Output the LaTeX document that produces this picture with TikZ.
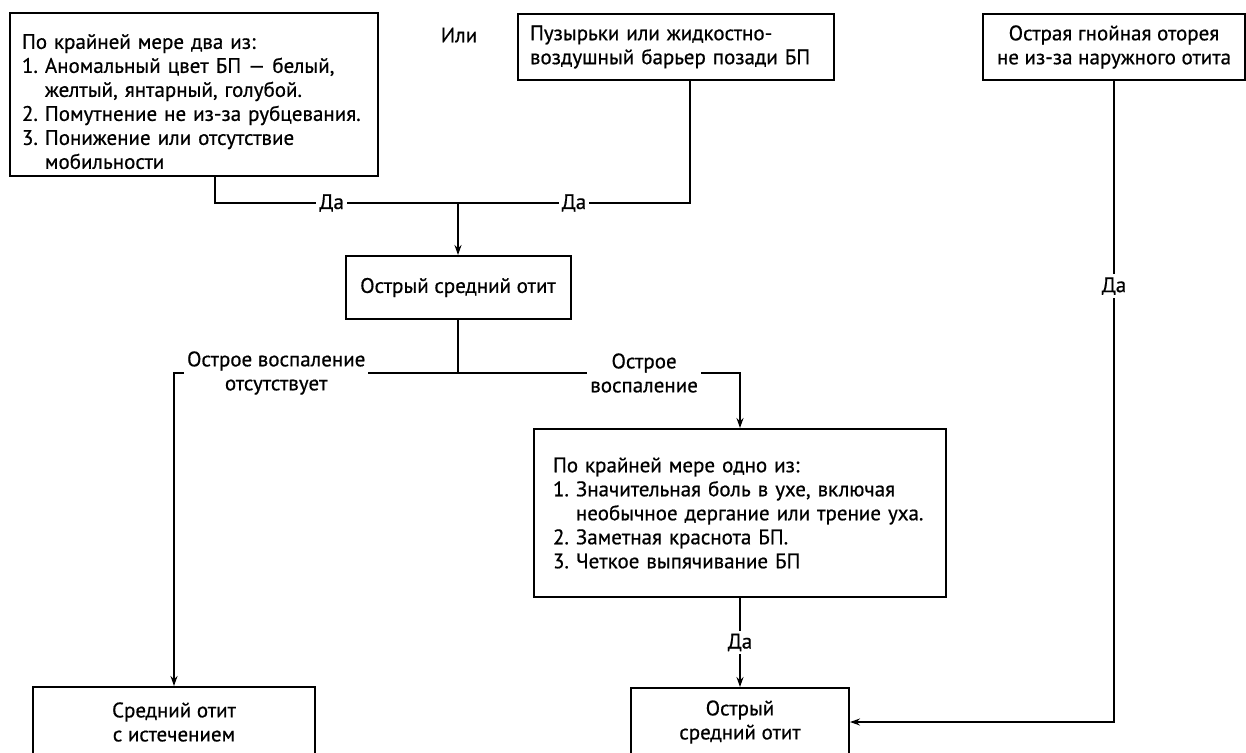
\documentclass[tikz,border=0pt]{standalone}
\usepackage{fontspec}
\setmainfont{PT Sans}[FakeBold=0.6]
\usetikzlibrary{arrows.meta, calc}
\frenchspacing

\newcommand{\boxfont}{\fontsize{21}{24}\selectfont}

\begin{document}
\begin{tikzpicture}[x=1pt, y=-1pt,
        box/.style={rectangle, draw, line width=2pt, inner xsep=12pt,
                    inner ysep=0pt, font=\boxfont},
        link/.style={line width=2pt},
        arr/.style={-{Stealth[length=10pt, width=7pt]}, line width=2pt},
        lab/.style={fill=white, inner sep=3pt, font=\boxfont, align=center}]
        \path[use as bounding box] (0,0) rectangle (1246,752);
        \clip (0,0) rectangle (1246,752);
        % entry criteria
        \node[box, text width=344pt, minimum height=163pt, align=left]
              (crit) at (194,94.5)
              {\rule{0pt}{29pt}По крайней мере два из:\\
               1. Аномальный цвет БП --- белый,\\
               \hphantom{1. }желтый, янтарный, голубой.\\
               2. Помутнение не из-за рубцевания.\\
               3. Понижение или отсутствие\\
               \hphantom{1. }мобильности};
        \node[font=\boxfont] (ili) at (459,35) {Или};
        \node[box, text width=292pt, minimum height=66pt, align=left]
              (bubbles) at (676,47)
              {Пузырьки или жидкостно-\\воздушный барьер позади БП};
        \node[box, minimum width=262pt, minimum height=66pt, align=center]
              (otorrhea) at (1114,47)
              {Острая гнойная оторея\\не из-за наружного отита};
        % diagnosis and branches
        \node[box, minimum width=225pt, minimum height=63pt]
              (aom) at (458,287.5) {Острый средний отит};
        \node[box, text width=374pt, inner xsep=19pt, minimum height=168pt,
              align=left] (signs) at (740,513)
              {По крайней мере одно из:\\
               1. Значительная боль в ухе, включая\\
               \hphantom{1. }необычное дергание или трение уха.\\
               2. Заметная краснота БП.\\
               3. Четкое выпячивание БП};
        \node[box, minimum width=282pt, minimum height=70pt, align=center]
              (ome) at (174,722) {Средний отит\\с истечением};
        \node[box, minimum width=218pt, minimum height=68pt, align=center]
              (acute) at (740,722) {Острый\\средний отит};
        \coordinate (join) at (458,203);
        \coordinate (split) at (458,373);
        \draw[link] ($(crit.south)+(21,0)$) |- (join) node[lab, pos=0.74] {Да};
        \draw[link] ($(bubbles.south)+(14,0)$) |- (join) node[lab, pos=0.75] {Да};
        \draw[arr] (join) -- (aom.north);
        \draw[link] (aom.south) -- (split);
        \draw[arr] (split) -| (ome.north)
              node[lab, pos=0.32] {Острое воспаление\\отсутствует};
        \draw[arr] (split) -| (signs.north)
              node[lab, pos=0.33] {Острое\\воспаление};
        \draw[arr] (signs.south) -- (acute.north) node[lab, pos=0.5] {Да};
        \draw[arr] (otorrhea.south) |- (acute.east) node[lab, pos=0.16] {Да};
      \end{tikzpicture}
\end{document}
